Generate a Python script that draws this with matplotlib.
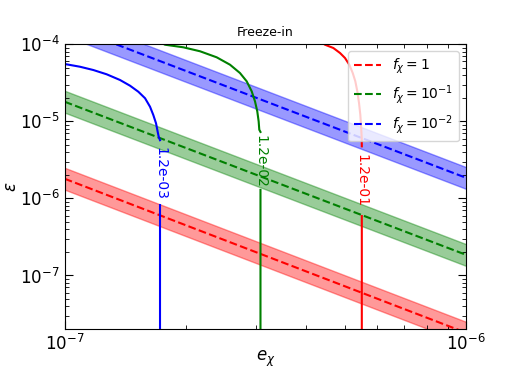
import numpy as np
import matplotlib
matplotlib.use('Agg')
import matplotlib.pyplot as plt

# Freeze-in: bands of epsilon vs e_chi for three f_chi values
e_ends = [1e-7, 1e-6]

eps_f1 = [1.8e-6, 1.8e-8]
eps_f1_hi = [2.5e-6, 2.5e-8]
eps_f1_lo = [1.3e-6, 1.3e-8]

eps_f01 = [1.8e-5, 1.85e-7]
eps_f01_hi = [2.5e-5, 2.55e-7]
eps_f01_lo = [1.3e-5, 1.33e-7]

eps_f001 = [1.8e-4, 1.85e-6]
eps_f001_hi = [2.5e-4, 2.55e-6]
eps_f001_lo = [1.3e-4, 1.33e-6]

f_labels = [r'$f_\chi = 1$', r'$f_\chi = 10^{-1}$', r'$f_\chi = 10^{-2}$']

# contour curves (nan = gap for the inline label)
nan = np.nan
c3_x = [1.0e-7, 1.091e-7, 1.178e-7, 1.272e-7, 1.373e-7, 1.454e-7, 1.525e-7, 1.585e-7,
        1.631e-7, 1.662e-7, 1.688e-7, 1.704e-7, 1.714e-7, 1.727e-7, nan, 1.727e-7, 1.727e-7]
c3_y = [5.565e-5, 5.13e-5, 4.65e-5, 4.09e-5, 3.45e-5, 2.91e-5, 2.43e-5, 2.0e-5,
        1.55e-5, 1.21e-5, 9.44e-6, 7.34e-6, 6.33e-6, 5.7e-6, nan, 8.2e-7, 1e-8]

c2_x = [1.74e-7, 1.777e-7, 1.974e-7, 2.173e-7, 2.39e-7, 2.58e-7, 2.732e-7, 2.839e-7, 2.922e-7,
        2.978e-7, 3.017e-7, 3.041e-7, 3.052e-7, 3.073e-7, nan, 3.073e-7, 3.073e-7]
c2_y = [1.05e-4, 9.91e-5, 9.17e-5, 8.14e-5, 6.8e-5, 5.45e-5, 4.25e-5, 3.32e-5, 2.46e-5,
        1.82e-5, 1.35e-5, 1.0e-5, 7.8e-6, 7.3e-6, nan, 1.29e-6, 1e-8]

c1_x = [4.38e-7, 4.448e-7, 4.667e-7, 4.85e-7, 4.99e-7, 5.115e-7, 5.216e-7, 5.294e-7, 5.355e-7,
        5.408e-7, 5.448e-7, 5.47e-7, 5.492e-7, 5.495e-7, nan, 5.495e-7, 5.495e-7]
c1_y = [1.05e-4, 9.91e-5, 8.98e-5, 7.73e-5, 6.66e-5, 5.45e-5, 4.25e-5, 3.32e-5, 2.46e-5,
        1.73e-5, 1.22e-5, 9.05e-6, 6.09e-6, 4.75e-6, nan, 5.9e-7, 1e-8]

c_labels = ['1.2e-03', '1.2e-02', '1.2e-01']
c_label_pos = [(1.727e-7, 2.1e-6), (3.073e-7, 3.0e-6), (5.495e-7, 1.7e-6)]

fig, ax = plt.subplots(figsize=(5.18, 3.7), dpi=100)

colors = ['red', 'green', 'blue']
lines = [eps_f1, eps_f01, eps_f001]
his = [eps_f1_hi, eps_f01_hi, eps_f001_hi]
los = [eps_f1_lo, eps_f01_lo, eps_f001_lo]
for c, y, hi, lo, lab in zip(colors, lines, his, los, f_labels):
    ax.fill_between(e_ends, lo, hi, color=c, alpha=0.4)
    ax.plot(e_ends, y, '--', color=c, lw=1.5, label=lab)

curves = [(c3_x, c3_y), (c2_x, c2_y), (c1_x, c1_y)]
for (cx, cy), c, lab, pos in zip(curves, ['blue', 'green', 'red'], c_labels, c_label_pos):
    ax.plot(cx, cy, '-', color=c, lw=1.5)
    ax.text(pos[0], pos[1], lab, color=c, rotation=-90, ha='center', va='center', fontsize=10)

ax.set_xscale('log')
ax.set_yscale('log')
ax.set_xlim(1e-7, 1e-6)
ax.set_ylim(2e-8, 1e-4)
ax.tick_params(which='both', direction='in', top=True, right=True, labelsize=12)
ax.tick_params(which='major', length=6)
ax.tick_params(which='minor', length=3)
ax.set_xlabel(r'$e_\chi$', fontsize=12, labelpad=-4)
ax.set_ylabel(r'$\epsilon$', fontsize=12, labelpad=0)
ax.set_title('Freeze-in', fontsize=9)
ax.legend(loc='upper right', fontsize=10)

plt.savefig('out.png')
